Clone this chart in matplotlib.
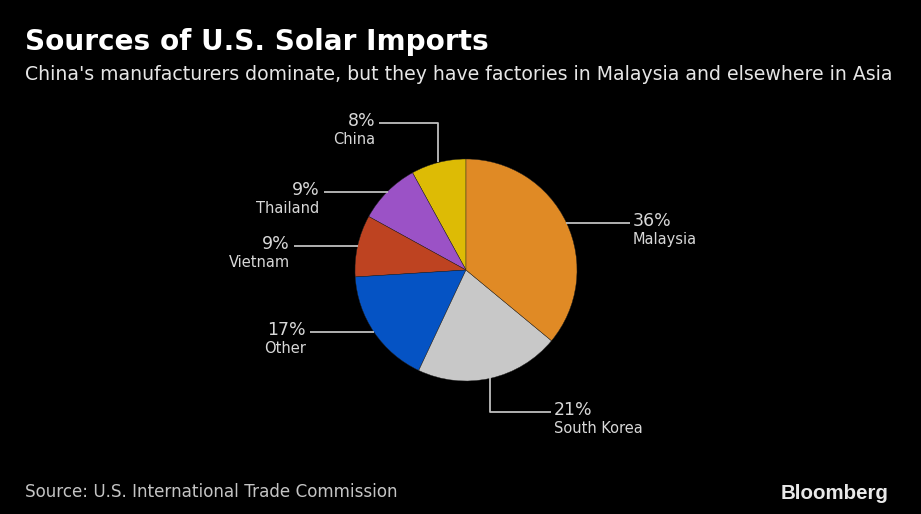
import matplotlib
matplotlib.use("Agg")
import matplotlib.pyplot as plt
import numpy as np

# ---- data ----
countries = ["China", "Thailand", "Vietnam", "Other", "South Korea", "Malaysia"]
shares = [8, 9, 9, 17, 21, 36]
pct_labels = ["8%", "9%", "9%", "17%", "21%", "36%"]
colors = ["#DDBB05", "#9B52C6", "#BE4321", "#0553C4", "#C8C8C8", "#E08A25"]

title = "Sources of U.S. Solar Imports"
subtitle = "China's manufacturers dominate, but they have factories in Malaysia and elsewhere in Asia"
source = "Source: U.S. International Trade Commission"

W, H = 921, 514
fig = plt.figure(figsize=(W / 100, H / 100), dpi=100, facecolor="black")
ax = fig.add_axes([0, 0, 1, 1])
ax.set_facecolor("black")

cx, cy, R = 466, H - 270, 111
wedges, _ = ax.pie(shares, colors=colors, startangle=90, counterclock=True,
                   center=(cx, cy), radius=R, frame=True,
                   wedgeprops=dict(edgecolor="#222222", linewidth=0.3))
ax.set_xlim(0, W)
ax.set_ylim(0, H)
ax.set_aspect("equal")
ax.axis("off")

renderer = fig.canvas.get_renderer()

def fit(t, width):
    bb = t.get_window_extent(renderer=renderer)
    t.set_fontsize(t.get_fontsize() * width / bb.width)

fam = ["Liberation Sans Narrow", "DejaVu Sans"]
t1 = fig.text(25 / W, 1 - 50 / H, title, color="white", fontsize=20, fontweight="bold",
              family=fam, ha="left", va="baseline")
fit(t1, 463)
t2 = fig.text(25 / W, 1 - 80 / H, subtitle, color="#E6E6E6", fontsize=14,
              family=fam, ha="left", va="baseline")
fit(t2, 868)
t3 = fig.text(25 / W, 1 - 497 / H, source, color="#C4C4C4", fontsize=12,
              family=fam, ha="left", va="baseline")
fit(t3, 371)
t4 = fig.text(888 / W, 1 - 499 / H, "Bloomberg", color="#E8E8E8", fontsize=14,
              fontweight="bold", family=["Liberation Sans", "DejaVu Sans"],
              ha="right", va="baseline")
fit(t4, 108)

line_kw = dict(color="#BFBFBF", linewidth=1.3, solid_capstyle="butt")
lab_col = "#D8D8D8"
L = 64
cum = np.cumsum([0] + shares)
tot = sum(shares)
for i, w in enumerate(wedges):
    mid = np.deg2rad(90 + 360 * (cum[i] + shares[i] / 2) / tot)
    ax_, ay_ = cx + R * np.cos(mid), cy + R * np.sin(mid)
    name = countries[i]
    if name == "China":
        ey = H - 123
        pts = [(ax_, ay_), (ax_, ey), (ax_ - 59, ey)]
        tx, ty, ha = ax_ - 63, ey, "right"
    elif name == "South Korea":
        ey = H - 412
        pts = [(ax_, ay_), (ax_, ey), (ax_ + 61, ey)]
        tx, ty, ha = ax_ + 64, ey, "left"
    elif np.cos(mid) < 0:
        pts = [(ax_, ay_), (ax_ - L, ay_)]
        tx, ty, ha = ax_ - L - 4, ay_, "right"
    else:
        pts = [(ax_, ay_), (ax_ + L, ay_)]
        tx, ty, ha = ax_ + L + 2, ay_, "left"
    xs, ys = zip(*pts)
    ax.plot(xs, ys, **line_kw)
    ax.text(tx, ty - 3, pct_labels[i], color=lab_col, fontsize=12.5, ha=ha,
            va="baseline", family=fam)
    ax.text(tx, ty - 21, name, color=lab_col, fontsize=10.5, ha=ha,
            va="baseline", family=["DejaVu Sans"])

fig.savefig("out.png", dpi=100, facecolor="black")
